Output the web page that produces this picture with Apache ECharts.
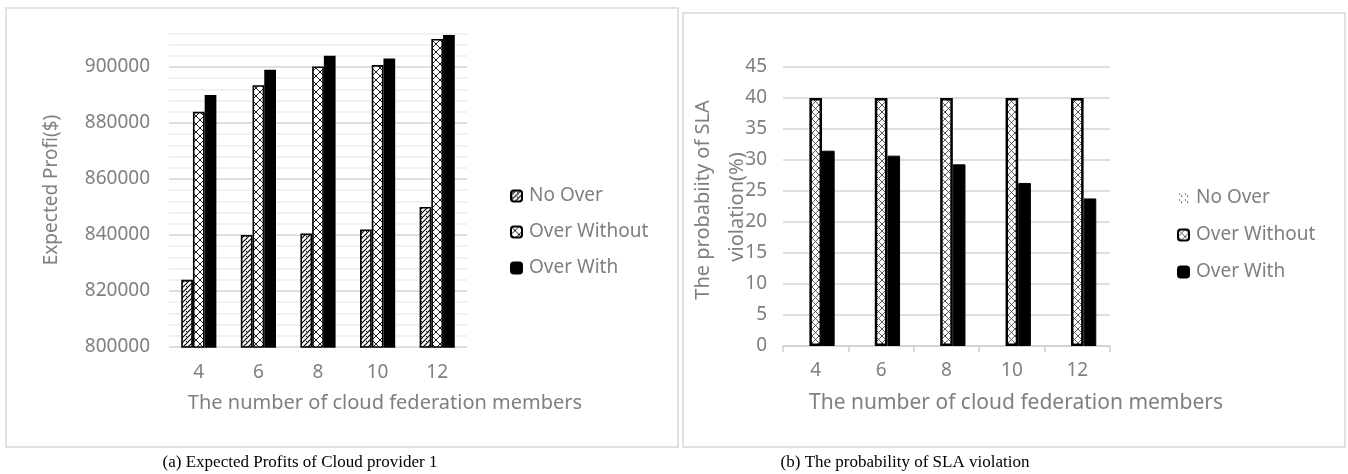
<!DOCTYPE html>
<html>
<head>
<meta charset="utf-8">
<script src="https://cdn.jsdelivr.net/npm/echarts@6/dist/echarts.min.js"></script>
<style>
  html, body { margin: 0; padding: 0; background: #fff; }
  #chart { width: 1348px; height: 474px; }
</style>
</head>
<body>
<div id="chart"></div>
<script>
// Categories: number of cloud federation members
const members = ['4', '6', '8', '10', '12'];

// (a) Expected profit of cloud provider 1 ($)
const profitNoOver      = [824000, 840000, 840500, 842000, 850000];
const profitOverWithout = [884000, 893500, 900200, 900700, 910000];
const profitOverWith    = [890000, 899000, 904000, 903000, 911400];

// (b) Probability of SLA violation (%)
const slaNoOver      = [0, 0, 0, 0, 0];
const slaOverWithout = [40, 40, 40, 40, 40];
const slaOverWith    = [31.5, 30.7, 29.3, 26.3, 23.8];

const seriesNames = ['No Over', 'Over Without', 'Over With'];

const FONT = '"Noto Sans", sans-serif';
const GREY = '#7f7f7f';

// Fill patterns for the hatched bars
function pattern(size, draw) {
  const c = document.createElement('canvas');
  c.width = c.height = size;
  const g = c.getContext('2d');
  g.fillStyle = '#fff';
  g.fillRect(0, 0, size, size);
  g.strokeStyle = '#000';
  g.fillStyle = '#000';
  draw(g, size);
  return { image: c, repeat: 'repeat' };
}
function diag(g, s, dir) {
  g.beginPath();
  if (dir > 0) {
    g.moveTo(0, s); g.lineTo(s, 0);
    g.moveTo(-1, 1); g.lineTo(1, -1);
    g.moveTo(s - 1, s + 1); g.lineTo(s + 1, s - 1);
  } else {
    g.moveTo(0, 0); g.lineTo(s, s);
    g.moveTo(-1, s - 1); g.lineTo(1, s + 1);
    g.moveTo(s - 1, -1); g.lineTo(s + 1, 1);
  }
  g.stroke();
}
const hatchUp = pattern(5, (g, s) => { g.lineWidth = 1.2; diag(g, s, 1); g.fillRect(1, 1, 1, 1); });
const lattice = pattern(8, (g, s) => { g.lineWidth = 0.9; diag(g, s, 1); diag(g, s, -1); });
const latticeFine = pattern(7, (g, s) => { g.lineWidth = 0.8; g.strokeStyle = '#333'; diag(g, s, 1); diag(g, s, -1); });
const dots = pattern(6, (g) => { g.fillRect(1, 1, 1, 1); g.fillRect(3, 3, 1, 1); });

const MAJOR = '#d4d4d4', MINOR = '#ececec';

function bar(name, data, axis, color, border, gap) {
  return {
    type: 'bar', name: name, data: data,
    xAxisIndex: axis, yAxisIndex: axis,
    barGap: '0%', barCategoryGap: gap,
    itemStyle: { color: color, borderColor: '#000', borderWidth: border },
    emphasis: { disabled: true },
    silent: true
  };
}

const legendBase = {
  orient: 'vertical',
  itemWidth: 11, itemHeight: 11,
  selectedMode: false,
  textStyle: { fontFamily: FONT, fontSize: 19, color: GREY, lineHeight: 20, padding: [0, 0, 0, 2] },
  formatter: n => n.split(':')[1]
};

const option = {
  animation: false,
  backgroundColor: '#fff',
  grid: [
    { left: 169, right: 881, top: 33.4, bottom: 127, containLabel: false },
    { left: 783, right: 238, top: 67, bottom: 128, containLabel: false }
  ],
  xAxis: [
    {
      gridIndex: 0, type: 'category', data: members,
      axisLine: { show: false }, axisTick: { show: false },
      axisLabel: { color: GREY, fontFamily: FONT, fontSize: 19, margin: 16 }
    },
    {
      gridIndex: 1, type: 'category', data: members,
      axisLine: { show: true, lineStyle: { color: '#d0d0d0', width: 1.5 } },
      axisTick: { show: true, length: 6, lineStyle: { color: '#d0d0d0', width: 1.5 } },
      axisLabel: { color: GREY, fontFamily: FONT, fontSize: 19, margin: 15 }
    }
  ],
  yAxis: [
    {
      gridIndex: 0, type: 'value', min: 800000, max: 912000, interval: 4000,
      axisLine: { show: false }, axisTick: { show: false },
      axisLabel: {
        color: GREY, fontFamily: FONT, fontSize: 19, margin: 19,
        formatter: v => (v % 20000 === 0 ? String(v) : '')
      },
      splitLine: { show: true, lineStyle: { color: [MAJOR, MINOR, MINOR, MINOR, MINOR], width: 1.5 } }
    },
    {
      gridIndex: 1, type: 'value', min: 0, max: 45, interval: 5,
      axisLine: { show: false }, axisTick: { show: false },
      axisLabel: { color: GREY, fontFamily: FONT, fontSize: 19, margin: 16 },
      splitLine: { show: true, lineStyle: { color: MAJOR, width: 1.5 } }
    }
  ],
  legend: [
    Object.assign({}, legendBase, {
      left: 505, top: 181, itemGap: 16,
      data: seriesNames.map(n => 'a:' + n)
    }),
    Object.assign({}, legendBase, {
      left: 1172, top: 183, itemGap: 17,
      data: seriesNames.map(n => 'b:' + n)
    })
  ],
  series: [
    bar('a:' + seriesNames[0], profitNoOver, 0, hatchUp, 1.6, '41%'),
    bar('a:' + seriesNames[1], profitOverWithout, 0, lattice, 1.6, '41%'),
    bar('a:' + seriesNames[2], profitOverWith, 0, '#000', 1.6, '41%'),
    bar('b:' + seriesNames[0], slaNoOver, 1, dots, 0, '42%'),
    bar('b:' + seriesNames[1], slaOverWithout, 1, latticeFine, 2.5, '42%'),
    bar('b:' + seriesNames[2], slaOverWith, 1, '#000', 1, '42%')
  ],
  graphic: [
    // panel frames
    { type: 'rect', shape: { x: 6, y: 8, width: 672, height: 439 },
      style: { fill: 'none', stroke: '#d9d9d9', lineWidth: 1.5 }, silent: true, z: -1 },
    { type: 'rect', shape: { x: 683, y: 13, width: 662, height: 434 },
      style: { fill: 'none', stroke: '#d9d9d9', lineWidth: 1.5 }, silent: true, z: -1 },
    // axis titles
    { type: 'text', x: 52, y: 190, rotation: Math.PI / 2,
      style: { text: 'Expected Profi($)', fill: GREY, font: '19px ' + FONT, align: 'center', verticalAlign: 'middle' } },
    { type: 'text', x: 385, y: 403,
      style: { text: 'The number of cloud federation members', fill: GREY, font: '20px ' + FONT, align: 'center', verticalAlign: 'middle' } },
    { type: 'text', x: 703, y: 200, rotation: Math.PI / 2,
      style: { text: 'The probabiity of SLA', fill: GREY, font: '20px ' + FONT, align: 'center', verticalAlign: 'middle' } },
    { type: 'text', x: 737, y: 207, rotation: Math.PI / 2,
      style: { text: 'violation(%)', fill: GREY, font: '20px ' + FONT, align: 'center', verticalAlign: 'middle' } },
    { type: 'text', x: 1016, y: 403,
      style: { text: 'The number of cloud federation members', fill: GREY, font: '21px ' + FONT, align: 'center', verticalAlign: 'middle' } },
    // panel captions
    { type: 'text', x: 300, y: 463,
      style: { text: '(a) Expected Profits of Cloud provider 1', fill: '#000', font: '17px "Liberation Serif", serif', align: 'center', verticalAlign: 'middle' } },
    { type: 'text', x: 905, y: 463,
      style: { text: '(b) The probability of SLA violation', fill: '#000', font: '17px "Liberation Serif", serif', align: 'center', verticalAlign: 'middle' } }
  ]
};

const chart = echarts.init(document.getElementById('chart'), null, { renderer: 'canvas' });
chart.setOption(option);
</script>
</body>
</html>
